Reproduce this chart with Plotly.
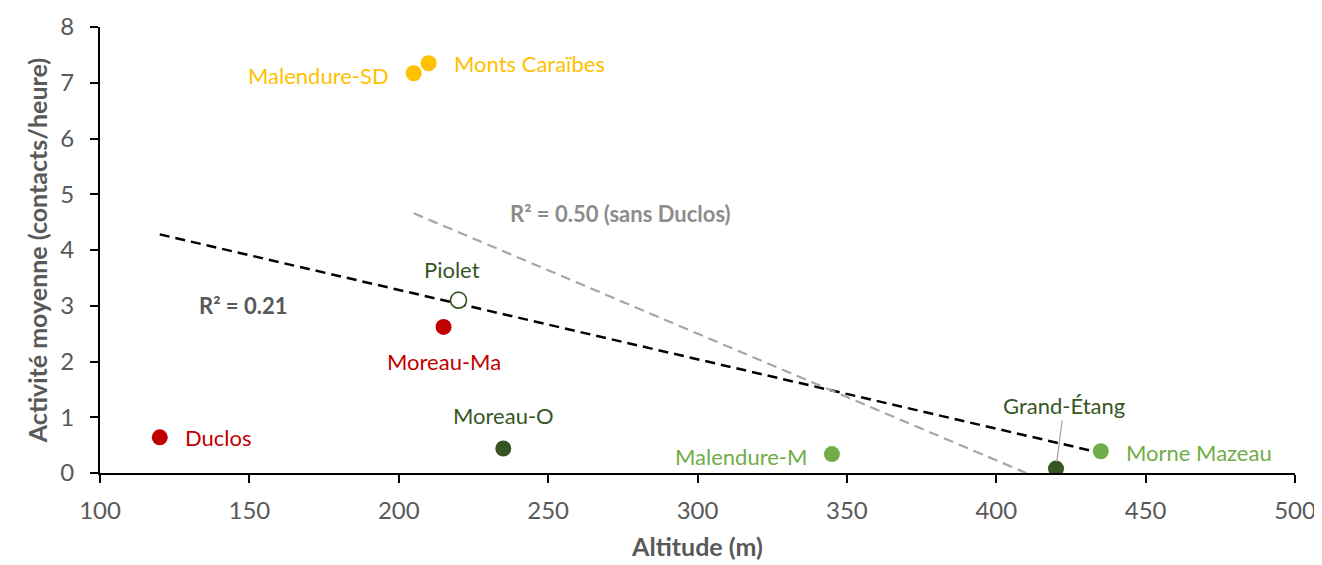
import plotly.graph_objects as go

# sites: altitude (m) and mean activity (contacts/heure)
sites = ["Duclos", "Moreau-Ma", "Piolet", "Moreau-O", "Malendure-SD",
         "Monts Caraïbes", "Malendure-M", "Morne Mazeau", "Grand-Étang"]
altitude = [120, 215, 220, 235, 205, 210, 345, 435, 420]
activite = [0.64, 2.62, 3.10, 0.44, 7.17, 7.35, 0.34, 0.39, 0.08]

RED = "#C00000"
GOLD = "#FFC000"
DARK_GREEN = "#375623"
LIGHT_GREEN = "#70AD47"
colors = [RED, RED, DARK_GREEN, DARK_GREEN, GOLD, GOLD, LIGHT_GREEN, LIGHT_GREEN, DARK_GREEN]
hollow = [False, False, True, False, False, False, False, False, False]

# trend lines (all sites / without Duclos)
trend_all_x = [120, 435]
trend_all_y = [4.28, 0.36]
trend_sans_x = [205, 410]
trend_sans_y = [4.66, 0.0]

x_ticks = [100, 150, 200, 250, 300, 350, 400, 450, 500]
y_ticks = [0, 1, 2, 3, 4, 5, 6, 7, 8]

FONT = "Lato, 'Noto Sans', sans-serif"
GREY_TEXT = "#595959"

fig = go.Figure()

fig.add_trace(go.Scatter(
    x=trend_all_x, y=trend_all_y, mode="lines",
    line={"color": "black", "width": 2.5, "dash": "10px,6px"},
    hoverinfo="skip", showlegend=False,
))
fig.add_trace(go.Scatter(
    x=trend_sans_x, y=trend_sans_y, mode="lines",
    line={"color": "#A6A6A6", "width": 2.2, "dash": "10px,6px"},
    hoverinfo="skip", showlegend=False,
))

fig.add_trace(go.Scatter(
    x=altitude, y=activite, mode="markers", text=sites,
    marker={
        "size": 16,
        "color": ["white" if h else c for c, h in zip(colors, hollow)],
        "line": {"color": colors, "width": [1.6 if h else 0 for h in hollow]},
    },
    showlegend=False,
))

# label offsets in pixels: (xshift, yshift, xanchor)
label_pos = {
    "Duclos": (23, 0, "left"),
    "Moreau-Ma": (0, -35, "center"),
    "Piolet": (-7, 31, "center"),
    "Moreau-O": (0, 33, "center"),
    "Malendure-SD": (-23, -2, "right"),
    "Monts Caraïbes": (23, 0, "left"),
    "Malendure-M": (-23, -2, "right"),
    "Morne Mazeau": (23, -1, "left"),
}
for name, xv, yv, col in zip(sites, altitude, activite, colors):
    if name in label_pos:
        dx, dy, anchor = label_pos[name]
        fig.add_annotation(
            x=xv, y=yv, text=name, showarrow=False, xanchor=anchor,
            xshift=dx, yshift=dy, font={"size": 22, "color": col, "family": FONT},
        )
    else:
        fig.add_annotation(
            x=xv, y=yv, text=name, showarrow=True, arrowhead=0,
            arrowcolor="#A6A6A6", arrowwidth=1.3, ax=8, ay=-63, standoff=7,
            font={"size": 22, "color": col, "family": FONT},
        )

fig.add_annotation(
    x=148, y=3.0, text="<b>R² = 0.21</b>", showarrow=False,
    font={"size": 22, "color": GREY_TEXT, "family": FONT},
)
fig.add_annotation(
    x=236.5, y=4.66, text="<b>R² = 0.50 (sans Duclos)</b>", showarrow=False,
    xanchor="left", font={"size": 22, "color": "#8C8C8C", "family": FONT},
)

fig.update_layout(
    width=1322, height=565,
    template="plotly_white",
    plot_bgcolor="white", paper_bgcolor="white",
    margin={"l": 92, "r": 35, "t": 19, "b": 100},
    font={"family": FONT, "color": GREY_TEXT},
    showlegend=False,
)
fig.update_xaxes(
    range=[100, 500], tickvals=x_ticks, showgrid=False, zeroline=False,
    showline=True, linecolor="black", linewidth=2, automargin=False,
    ticks="outside", ticklen=8, tickwidth=2, tickcolor="black",
    ticklabelstandoff=7,
    tickfont={"size": 24, "color": GREY_TEXT},
    title={"text": "<b>Altitude (m)</b>", "font": {"size": 25, "color": GREY_TEXT}, "standoff": 16},
)
fig.update_yaxes(
    range=[0, 8], tickvals=y_ticks, showgrid=False, zeroline=False,
    showline=True, linecolor="black", linewidth=2, automargin=False,
    ticks="outside", ticklen=8, tickwidth=2, tickcolor="black",
    ticklabelstandoff=11,
    tickfont={"size": 24, "color": GREY_TEXT},
    title={"text": "<b>Activité moyenne (contacts/heure)</b>", "font": {"size": 25, "color": GREY_TEXT}, "standoff": 6},
)

fig.write_html("out.html")
